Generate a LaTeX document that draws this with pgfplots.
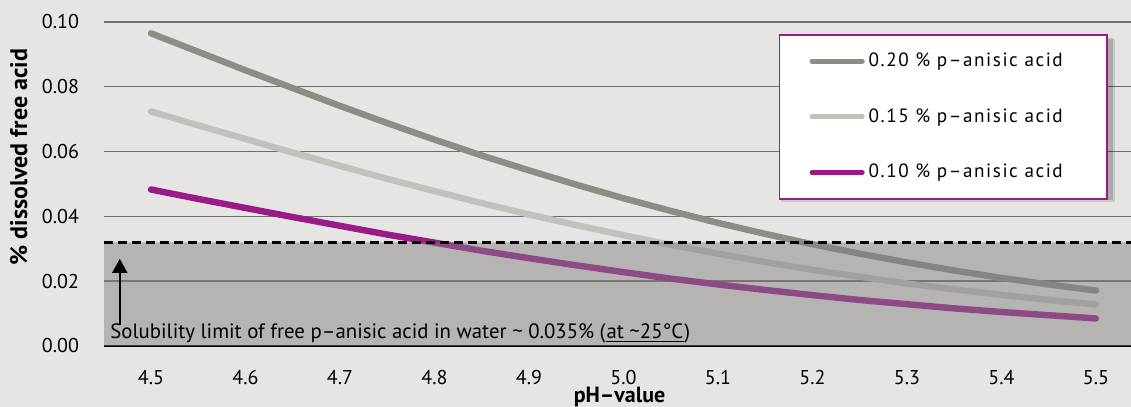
\documentclass[border=0pt]{standalone}
\usepackage{fontspec}
\setmainfont{PT Sans}
\newfontfamily\legfont[LetterSpace=8]{PT Sans}
\usepackage{pgfplots}
\usepackage{pgfplotstable}
\pgfplotsset{compat=1.18}
\usetikzlibrary{arrows.meta}

\definecolor{bg}{HTML}{E6E5E3}
\definecolor{grd}{HTML}{6E6E6E}
\definecolor{c20}{HTML}{8F8B85}
\definecolor{c15}{HTML}{C4C1BC}
\definecolor{c10}{HTML}{9A1A88}
\definecolor{shd}{HTML}{808080}

% free acid (%) vs pH
\pgfplotstableread{
ph   w20    w15    w10
4.50 0.0965 0.0724 0.0483
4.55 0.0908 0.0681 0.0454
4.60 0.0851 0.0639 0.0426
4.65 0.0796 0.0597 0.0398
4.70 0.0741 0.0556 0.0371
4.75 0.0688 0.0516 0.0344
4.80 0.0637 0.0478 0.0319
4.85 0.0588 0.0441 0.0294
4.90 0.0542 0.0406 0.0271
4.95 0.0498 0.0373 0.0249
5.00 0.0456 0.0342 0.0228
5.05 0.0417 0.0312 0.0208
5.10 0.0380 0.0285 0.0190
5.15 0.0346 0.0259 0.0173
5.20 0.0314 0.0235 0.0157
5.25 0.0285 0.0214 0.0142
5.30 0.0258 0.0193 0.0129
5.35 0.0233 0.0175 0.0116
5.40 0.0210 0.0158 0.0105
5.45 0.0190 0.0142 0.0095
5.50 0.0171 0.0128 0.0085
}\solubility

\begin{document}
\begin{tikzpicture}
\useasboundingbox (0,0) rectangle (565.5pt,203.5pt);
\fill[bg] (0,0) rectangle (565.5pt,203.5pt);
\begin{axis}[
  at={(52pt,30.5pt)}, anchor=south west,
  scale only axis, width=513.5pt, height=162pt,
  xmin=4.4503, xmax=5.5371, ymin=0, ymax=0.10,
  axis x line*=bottom, axis y line*=left,
  x axis line style={-, black, line width=1pt},
  y axis line style={draw=none},
  major tick length=0pt,
  ymajorgrids, grid style={grd, line width=0.7pt},
  xtick={4.5,4.6,4.7,4.8,4.9,5.0,5.1,5.2,5.3,5.4,5.5},
  ytick={0,0.02,0.04,0.06,0.08,0.1},
  scaled y ticks=false,
  /pgf/number format/assume math mode=true,
  xticklabel style={/pgf/number format/fixed, /pgf/number format/fixed zerofill, /pgf/number format/precision=1, yshift=-8.5pt},
  yticklabel style={/pgf/number format/fixed, /pgf/number format/fixed zerofill, /pgf/number format/precision=2, xshift=-9pt},
  tick label style={font=\fontsize{10}{12}\selectfont},
  xlabel={pH\textendash value},
  xlabel style={at={(axis description cs:0.502,-0.175)}, anchor=base, inner sep=0pt, font=\bfseries\fontsize{11}{12}\selectfont},
  ylabel={\% dissolved free acid},
  ylabel style={at={(axis description cs:-0.083,0.583)}, anchor=center, font=\bfseries\fontsize{12}{13}\selectfont},
  legend style={at={(axis description cs:0.657,0.963)}, anchor=north west,
    draw=c10, line width=0.8pt, fill=white,
    font=\legfont\fontsize{9.6}{10}\selectfont,
    inner xsep=15pt, inner ysep=9pt, row sep=19.5pt,
    nodes={inner sep=0pt},
    cells={anchor=west},
    /tikz/every odd column/.append style={column sep=2pt}},
  legend image code/.code={\draw[#1, line width=2.5pt, line cap=round] (1.2pt,0pt) -- (26.3pt,0pt);},
]
\addplot [c20, line width=3.2pt, line cap=round] table [x=ph, y=w20] {\solubility};
\addlegendentry{\makebox[104pt][l]{0.20 \% p\textendash anisic acid}}
\addplot [c15, line width=3.2pt, line cap=round] table [x=ph, y=w15] {\solubility};
\addlegendentry{\makebox[104pt][l]{0.15 \% p\textendash anisic acid}}
\addplot [c10, line width=3.2pt, line cap=round] table [x=ph, y=w10] {\solubility};
\addlegendentry{\makebox[104pt][l]{0.10 \% p\textendash anisic acid}}

% solubility band and limit
\addplot [draw=none, fill=shd, fill opacity=0.48, forget plot]
  coordinates {(4.4503,0) (5.5371,0) (5.5371,0.032) (4.4503,0.032)} \closedcycle;
\addplot [black, line width=1.2pt, dash pattern=on 4.5pt off 2.5pt, forget plot]
  coordinates {(4.4503,0.032) (5.5371,0.032)};

% soft shadow behind the legend box
\fill [black, opacity=0.12] (axis description cs:0.659,0.948) rectangle (axis description cs:0.984,0.445);
\fill [black, opacity=0.15] (axis description cs:0.660,0.951) rectangle (axis description cs:0.982,0.450);

\draw [black, line width=0.85pt, -{Triangle[width=7.5pt,length=7pt]}]
  (axis cs:4.467,0.0065) -- (axis cs:4.467,0.0269);
\node [anchor=base west, inner sep=0pt, font=\fontsize{10.4}{12}\selectfont]
  at ([xshift=3pt,yshift=3.5pt]rel axis cs:0,0)
  {Solubility limit of free p\textendash anisic acid in water \textasciitilde{} 0.035\% (\tikz[baseline=0pt]{\node[anchor=base west, inner sep=0pt] (u) {at \textasciitilde25°C}; \draw[black, line width=0.6pt] ([yshift=-1.2pt]u.base west) -- ([yshift=-1.2pt]u.base east);})};
\end{axis}
\end{tikzpicture}
\end{document}
